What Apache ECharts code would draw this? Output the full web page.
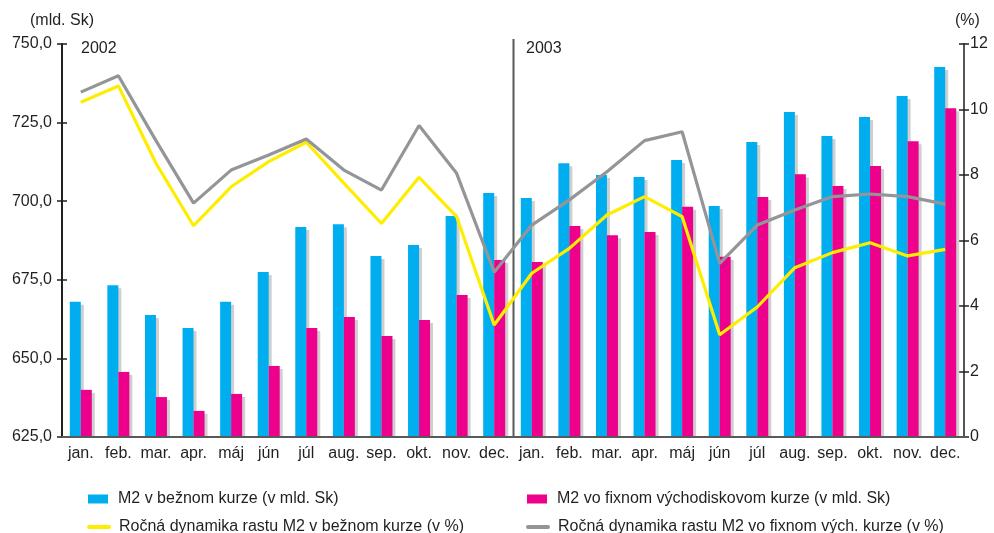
<!DOCTYPE html>
<html>
<head>
<meta charset="utf-8">
<script src="https://cdn.jsdelivr.net/npm/echarts@6/dist/echarts.min.js"></script>
<style>
  html, body { margin: 0; padding: 0; background: #fff; }
  #main { width: 994px; height: 533px; }
</style>
</head>
<body>
<div id="main"></div>
<script>
// M2 – bežný a fixný kurz, ročná dynamika (2002–2003)
const months = ['jan.', 'feb.', 'mar.', 'apr.', 'máj', 'jún', 'júl', 'aug.', 'sep.', 'okt.', 'nov.', 'dec.']
const categories = months.concat(months)

const leftTicks = [625, 650, 675, 700, 725, 750]
const rightTicks = [0, 2, 4, 6, 8, 10, 12]

const m2Bezny = [668, 673.3, 663.8, 659.7, 668, 677.5, 691.8, 692.7, 682.6, 686.1, 695.3, 702.6,
  701.0, 712.1, 708.3, 707.7, 713.1, 698.5, 718.8, 728.4, 720.7, 726.8, 733.5, 742.7]
const m2Fixny = [640, 645.7, 637.7, 633.3, 638.7, 647.6, 659.7, 663.2, 657.1, 662.2, 670.2, 681.3,
  680.7, 692.1, 689.2, 690.2, 698.2, 682.3, 701.3, 708.6, 704.8, 711.2, 719.1, 729.6]
const dynBezny = [10.22, 10.72, 8.36, 6.45, 7.64, 8.41, 9.0, 7.75, 6.52, 7.93, 6.73, 3.42,
  5.0, 5.76, 6.78, 7.34, 6.73, 3.12, 3.97, 5.17, 5.63, 5.93, 5.53, 5.73]
const dynFixny = [10.53, 11.03, 9.05, 7.14, 8.15, 8.61, 9.1, 8.15, 7.54, 9.51, 8.05, 5.03,
  6.47, 7.24, 8.10, 9.05, 9.32, 5.30, 6.47, 6.93, 7.34, 7.42, 7.34, 7.11]

const names = [
  'M2 v bežnom kurze (v mld. Sk)',
  'M2 vo fixnom východiskovom kurze (v mld. Sk)',
  'Ročná dynamika rastu M2 v bežnom kurze (v %)',
  'Ročná dynamika rastu M2 vo fixnom vých. kurze (v %)'
]

const font = '"Liberation Sans", Arial, sans-serif'
const txt = '#231f20'

const shadow = { shadowColor: '#cfcfcf', shadowBlur: 0, shadowOffsetX: 3, shadowOffsetY: 3 }

let myChart = echarts.init(document.getElementById('main'))

let baseLeft = {
  type: 'value',
  position: 'left',
  min: leftTicks[0],
  max: leftTicks[leftTicks.length - 1],
  interval: 25,
  splitLine: { show: false },
  axisLine: { show: true, lineStyle: { color: '#231f20', width: 2 } },
  axisTick: { show: true, length: 5, lineStyle: { color: '#231f20', width: 1.5 } },
  axisLabel: {
    margin: 10, fontSize: 16, color: txt, fontFamily: font,
    formatter: v => v.toFixed(1).replace('.', ',')
  }
}
let baseRight = {
  type: 'value',
  position: 'right',
  min: rightTicks[0],
  max: rightTicks[rightTicks.length - 1],
  interval: 2,
  splitLine: { show: false },
  axisLine: { show: true, lineStyle: { color: '#555', width: 2 } },
  axisTick: { show: true, length: 5, lineStyle: { color: '#231f20', width: 1.5 } },
  axisLabel: { margin: 6, fontSize: 16, color: txt, fontFamily: font }
}

// one legend per item so every entry sits where the original has it
const legendItem = (item, left, top) => ({
  left: left, top: top, padding: 0,
  itemWidth: 20, itemHeight: 9,
  data: [item],
  textStyle: { fontSize: 16, color: txt, fontFamily: font, padding: [0, 0, 0, 5] }
})
// line legend items: hide the symbol, keep a short round line
const lineLegend = (name, color) => ({
  name: name,
  itemStyle: { opacity: 0 },
  lineStyle: { color: color, width: 4, cap: 'round' }
})

let options = {
  animation: false,
  backgroundColor: '#fff',
  textStyle: { fontFamily: font },
  grid: { left: 62, right: 30, top: 44, bottom: 96, containLabel: false },
  graphic: [
    { id: 'unitL', type: 'text', left: 30, top: 13, style: { text: '(mld. Sk)', fill: txt, font: '16px ' + font } },
    { id: 'unitR', type: 'text', left: 955, top: 13, style: { text: '(%)', fill: txt, font: '16px ' + font } },
    { id: 'y2002', type: 'text', left: 81, top: 41, style: { text: '2002', fill: txt, font: '16px ' + font } },
    { id: 'y2003', type: 'text', left: 526, top: 41, style: { text: '2003', fill: txt, font: '16px ' + font } }
  ],
  legend: [
    legendItem({ name: names[0], icon: 'rect' }, 88, 491),
    legendItem(lineLegend(names[2], '#ffed00'), 87, 519),
    legendItem({ name: names[1], icon: 'rect' }, 527, 491),
    legendItem(lineLegend(names[3], '#939598'), 526, 519)
  ],
  xAxis: {
    type: 'category',
    data: categories,
    boundaryGap: true,
    axisLine: { show: true, lineStyle: { color: '#58595b', width: 2 } },
    axisTick: { show: false },
    axisLabel: { margin: 9, fontSize: 16, color: txt, fontFamily: font, interval: 0 },
    splitLine: { show: false },
    z: 5
  },
  yAxis: [
    baseLeft,
    baseRight,
    // inner half of the crossing ticks
    Object.assign({}, baseLeft, {
      axisLine: { show: false }, axisLabel: { show: false },
      axisTick: { show: true, inside: true, length: 5, lineStyle: { color: '#231f20', width: 1.5 } }
    }),
    Object.assign({}, baseRight, {
      axisLine: { show: false }, axisLabel: { show: false },
      axisTick: { show: true, inside: true, length: 5, lineStyle: { color: '#231f20', width: 1.5 } }
    })
  ],
  series: [
    {
      name: names[0], type: 'bar', yAxisIndex: 0,
      barWidth: 11, barGap: '0%',
      itemStyle: Object.assign({ color: '#00aeef' }, shadow),
      data: m2Bezny
    },
    {
      name: names[1], type: 'bar', yAxisIndex: 0,
      barWidth: 11, barGap: '0%',
      itemStyle: Object.assign({ color: '#ec008c' }, shadow),
      data: m2Fixny
    },
    {
      name: names[2], type: 'line', yAxisIndex: 1,
      symbol: 'none', z: 6,
      lineStyle: { color: '#ffed00', width: 3.2 },
      itemStyle: { color: '#ffed00' },
      data: dynBezny
    },
    {
      name: names[3], type: 'line', yAxisIndex: 1,
      symbol: 'none', z: 7,
      lineStyle: { color: '#939598', width: 3.2 },
      itemStyle: { color: '#939598' },
      data: dynFixny
    }
  ]
}
myChart.setOption(options)

// year divider between dec. 2002 and jan. 2003, placed through the axis scales
let xDec = myChart.convertToPixel({ xAxisIndex: 0 }, 11)
let xJan = myChart.convertToPixel({ xAxisIndex: 0 }, 12)
let xDiv = Math.round((xDec + xJan) / 2) + 0.5
let yBase = myChart.convertToPixel({ yAxisIndex: 0 }, leftTicks[0])
let yTop = myChart.convertToPixel({ yAxisIndex: 0 }, leftTicks[leftTicks.length - 1])
let xLeft = myChart.convertToPixel({ xAxisIndex: 0 }, 0) - (xJan - xDec) / 2
let xRight = myChart.convertToPixel({ xAxisIndex: 0 }, categories.length - 1) + (xJan - xDec) / 2
myChart.setOption({
  graphic: [
    {
      id: 'divider', type: 'line', z: 4,
      shape: { x1: xDiv, y1: yTop - 5, x2: xDiv, y2: yBase },
      style: { stroke: '#58595b', lineWidth: 2 }
    },
    {
      // hide the bar shadows under the x axis
      id: 'mask', type: 'rect', z: 3,
      shape: { x: xLeft + 1, y: yBase + 1, width: xRight - xLeft - 2, height: 4 },
      style: { fill: '#fff' }
    }
  ]
})
</script>
</body>
</html>
